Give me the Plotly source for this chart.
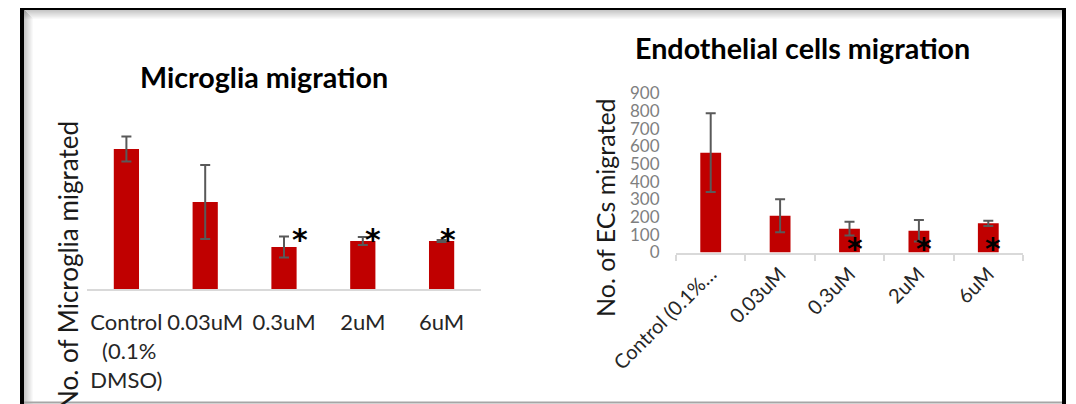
import plotly.graph_objects as go

# ---------------- data ----------------
categories = ["Control", "0.03uM", "0.3uM", "2uM", "6uM"]
microglia_ticklabels = ["Control<br> (0.1%<br>DMSO)", "0.03uM", "0.3uM", "2uM", "6uM"]
ec_ticklabels = ["Control (0.1%…", "0.03uM", "0.3uM", "2uM", "6uM"]

microglia_values = [140, 87, 42, 48, 48]
microglia_errors = [12.5, 37, 10.5, 4, 1]

ec_values = [565, 208, 135, 123, 165]
ec_errors = [223, 93, 39, 61, 15]
ec_yticks = [0, 100, 200, 300, 400, 500, 600, 700, 800, 900]

significant = ["0.3uM", "2uM", "6uM"]

# ---------------- helpers ----------------
OFF = 8                      # page body margin
W, H = 1076 - OFF, 404 - OFF
def px(x):
    return (x - OFF) / W
def py(y):
    return (H - (y - OFF)) / H

FONT = "Lato"
RED = "#C00000"
ERR = "#595959"
AXIS = "#d9d9d9"

fig = go.Figure()

fig.add_trace(go.Bar(
    x=categories, y=microglia_values, width=0.32,
    marker=dict(color=RED, line=dict(width=0)),
    error_y=dict(type="data", array=microglia_errors, color=ERR, thickness=2, width=5),
    xaxis="x", yaxis="y", showlegend=False, hoverinfo="skip"))

fig.add_trace(go.Bar(
    x=categories, y=ec_values, width=0.30,
    marker=dict(color=RED, line=dict(width=0)),
    error_y=dict(type="data", array=ec_errors, color=ERR, thickness=2, width=5),
    xaxis="x2", yaxis="y2", showlegend=False, hoverinfo="skip"))

annotations = []
# titles
annotations.append(dict(text="<b>Microglia migration</b>", x=px(264), y=py(77), xref="paper", yref="paper",
                        showarrow=False, xanchor="center", yanchor="middle",
                        font=dict(family=FONT, size=28.7, color="#000000")))
annotations.append(dict(text="<b>Endothelial cells migration</b>", x=px(802), y=py(48), xref="paper", yref="paper",
                        showarrow=False, xanchor="center", yanchor="middle",
                        font=dict(family=FONT, size=28.7, color="#000000")))
# y titles
annotations.append(dict(text="No. of Microglia migrated", x=px(68), y=py(266), xref="paper", yref="paper",
                        showarrow=False, textangle=-90, xanchor="center", yanchor="middle",
                        font=dict(family=FONT, size=26, color="#1a1a1a")))
annotations.append(dict(text="No. of ECs migrated", x=px(605), y=py(208), xref="paper", yref="paper",
                        showarrow=False, textangle=-90, xanchor="center", yanchor="middle",
                        font=dict(family=FONT, size=25, color="#1a1a1a")))

# significance stars
left_star_shift = {"0.3uM": 16, "2uM": 10, "6uM": 6}
for c in significant:
    annotations.append(dict(text="<b>*</b>", x=c, y=58, xref="x", yref="y", showarrow=False,
                            xanchor="center", yanchor="middle", xshift=left_star_shift[c], yshift=-8,
                            font=dict(family="DejaVu Sans", size=30, color="#000000")))
    annotations.append(dict(text="<b>*</b>", x=c, y=65, xref="x2", yref="y2", showarrow=False,
                            xanchor="center", yanchor="middle", xshift=5, yshift=-7,
                            font=dict(family="DejaVu Sans", size=30, color="#000000")))

# frame
shapes = []
for i in range(9):
    a = 0.22 * (1 - i / 9)
    shapes.append(dict(type="line", xref="paper", yref="paper", x0=px(24), x1=px(1062),
                       y0=py(10.5 + i), y1=py(10.5 + i), line=dict(color=f"rgba(0,0,0,{a:.3f})", width=1)))
    shapes.append(dict(type="line", xref="paper", yref="paper", x0=px(24.5 + i), x1=px(24.5 + i),
                       y0=py(10 + i), y1=py(404), line=dict(color=f"rgba(0,0,0,{a:.3f})", width=1)))
shapes.append(dict(type="line", xref="paper", yref="paper", x0=px(22), x1=px(22), y0=py(406), y1=py(6),
                   line=dict(color="#000000", width=4)))
shapes.append(dict(type="line", xref="paper", yref="paper", x0=px(20), x1=px(1066), y0=py(8), y1=py(8),
                   line=dict(color="#000000", width=4)))
shapes.append(dict(type="line", xref="paper", yref="paper", x0=px(1064), x1=px(1064), y0=py(406), y1=py(6),
                   line=dict(color="#000000", width=4)))
shapes.append(dict(type="line", xref="paper", yref="paper", x0=px(24), x1=px(1062), y0=py(402.5), y1=py(402.5),
                   line=dict(color="#a6a6a6", width=2)))

fig.update_layout(
    template="none",
    width=W, height=H,
    margin=dict(l=0, r=0, t=0, b=0, pad=0, autoexpand=False),
    paper_bgcolor="white", plot_bgcolor="white",
    font=dict(family=FONT),
    annotations=annotations,
    shapes=shapes,
    xaxis=dict(domain=[px(87), px(481)], anchor="y", type="category", automargin=False,
               tickvals=categories, ticktext=microglia_ticklabels,
               showline=True, linecolor=AXIS, linewidth=2,
               ticks="outside", ticklen=13, tickcolor="rgba(0,0,0,0)",
               tickfont=dict(family=FONT, size=22, color="#262626"),
               showgrid=False, zeroline=False),
    yaxis=dict(domain=[py(289), py(114)], anchor="x", range=[0, 175], automargin=False,
               showticklabels=False, showgrid=False, zeroline=False, showline=False, ticks=""),
    xaxis2=dict(domain=[px(676), px(1023)], anchor="y2", type="category", automargin=False,
                tickvals=categories, ticktext=ec_ticklabels, tickangle=-45,
                showline=True, linecolor=AXIS, linewidth=2,
                ticks="outside", tickson="boundaries", ticklen=6, tickcolor=AXIS, tickwidth=2,
                tickfont=dict(family=FONT, size=20, color="#262626"),
                showgrid=False, zeroline=False),
    yaxis2=dict(domain=[py(252.5), py(93.5)], anchor="x2", range=[0, 900], automargin=False,
                tickvals=ec_yticks, ticks="outside", ticklen=12, tickcolor="rgba(0,0,0,0)",
                tickfont=dict(family=FONT, size=17, color="#7f7f7f"),
                showgrid=False, zeroline=False, showline=False),
)

fig.write_html("out.html")
